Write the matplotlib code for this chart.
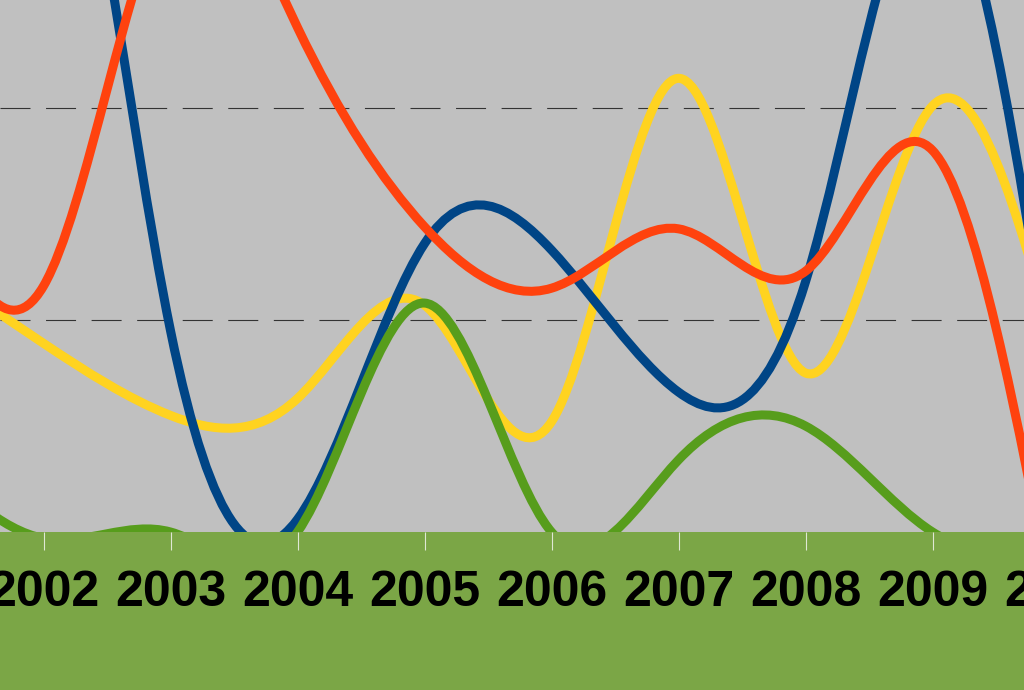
import numpy as np
import matplotlib
matplotlib.use("Agg")
import matplotlib.pyplot as plt
from matplotlib.path import Path
from matplotlib.patches import PathPatch

# years on the category axis (2001 and 2010 sit just outside the visible window)
years = [2001, 2002, 2003, 2004, 2005, 2006, 2007, 2008, 2009, 2010]
tick_years = [2002, 2003, 2004, 2005, 2006, 2007, 2008, 2009]

# series values (grid lines at 10 and 20)
blue_vals = [20.0, 40.0, 9.5, 0.6, 13.6, 13.3, 6.6, 11.8, 31.0, 5.0]
orange_vals = [18.0, 11.6, 30.0, 23.8, 14.4, 11.5, 14.3, 12.3, 18.0, -5.0]
yellow_vals = [13.0, 8.9, 5.5, 6.3, 10.7, 5.2, 21.4, 7.5, 20.1, 8.0]
green_vals = [4.0, -0.3, 0.0, 0.0, 10.8, 0.0, 3.4, 5.0, 0.0, -1.0]

plot_bg = "#c0c0c0"
band_color = "#7ba646"


def spline_path(xs, ys):
    # natural cubic spline through the points, as bezier segments
    xs = np.asarray(xs, float)
    ys = np.asarray(ys, float)
    n = len(xs)
    h = np.diff(xs)
    A = np.zeros((n, n))
    r = np.zeros(n)
    A[0, 0] = A[-1, -1] = 1
    for i in range(1, n - 1):
        A[i, i - 1] = h[i - 1]
        A[i, i] = 2 * (h[i - 1] + h[i])
        A[i, i + 1] = h[i]
        r[i] = 6 * ((ys[i + 1] - ys[i]) / h[i] - (ys[i] - ys[i - 1]) / h[i - 1])
    M = np.linalg.solve(A, r)
    s = np.zeros(n)
    for i in range(n - 1):
        s[i] = (ys[i + 1] - ys[i]) / h[i] - h[i] * (2 * M[i] + M[i + 1]) / 6
    s[-1] = (ys[-1] - ys[-2]) / h[-1] + h[-1] * (M[-2] + 2 * M[-1]) / 6
    verts = [(xs[0], ys[0])]
    codes = [Path.MOVETO]
    for i in range(n - 1):
        d = h[i] / 3
        verts += [(xs[i] + d, ys[i] + s[i] * d),
                  (xs[i + 1] - d, ys[i + 1] - s[i + 1] * d),
                  (xs[i + 1], ys[i + 1])]
        codes += [Path.CURVE4] * 3
    return Path(verts, codes)


plt.rcParams['font.family'] = ['Liberation Sans', 'DejaVu Sans']

fig = plt.figure(figsize=(10.24, 6.9), dpi=100, facecolor=band_color)
ax = fig.add_axes([0, 158 / 690, 1, 532 / 690])
ax.set_facecolor(plot_bg)

for val in [10, 20]:
    ax.axhline(val, color="#333333", lw=0.8, linestyle=(0, (27, 14)), zorder=1)

series = [
    (yellow_vals, "#ffd320"),
    (blue_vals, "#004586"),
    (orange_vals, "#ff420e"),
    (green_vals, "#579d1c"),
]
for k, (vals, color) in enumerate(series):
    patch = PathPatch(spline_path(years, vals), fill=False, edgecolor=color,
                      lw=6.5, capstyle="butt", joinstyle="round", zorder=2 + k)
    ax.add_patch(patch)

tick_len, tick_pad, label_size = 13, 14, 36
ax.set_xticks(tick_years)
ax.set_xticklabels([str(y) for y in tick_years], fontsize=label_size, fontweight="bold")
ax.tick_params(axis="x", direction="out", length=tick_len, width=0.8,
               color="#dfe8d4", pad=tick_pad)
ax.set_yticks([])
# limits after the ticks, otherwise a tick outside the window widens the view
ax.set_xlim(2002 - 43.5 / 127, 2002 + (1024 - 43.5) / 127)
ax.set_ylim(0, 532 / 21.2)
for side in ax.spines.values():
    side.set_visible(False)

# 2010 sits past the right edge; only its first digit shows
ax.annotate("2010", xy=(2010, 0), xycoords=("data", "axes fraction"),
            xytext=(0, -(tick_len + tick_pad)), textcoords="offset points",
            ha="center", va="top", fontsize=label_size, fontweight="bold",
            annotation_clip=False)

fig.savefig("out.png", dpi=100, facecolor=band_color)
